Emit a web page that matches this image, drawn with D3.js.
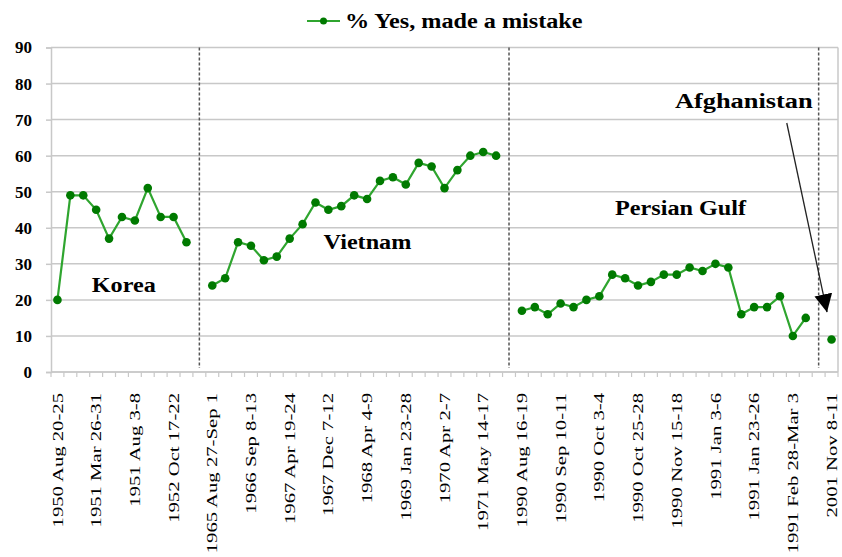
<!DOCTYPE html>
<html>
<head>
<meta charset="utf-8">
<script src="https://cdn.jsdelivr.net/npm/d3@7"></script>
<style>
  body { margin: 0; background: #fff; }
  svg { display: block; font-family: "Liberation Serif", "Times New Roman", serif; }
</style>
</head>
<body>
<svg id="chart" width="842" height="557"></svg>
<script>
// survey readings per war, gaps between wars are empty categories
var korea = [20, 49, 49, 45, 37, 43, 42, 51, 43, 43, 36];
var vietnam = [24, 26, 36, 35, 31, 32, 37, 41, 47, 45, 46, 49, 48, 53, 54, 52, 58, 57, 51, 56, 60, 61, 60];
var persianGulf = [17, 18, 16, 19, 18, 20, 21, 27, 26, 24, 25, 27, 27, 29, 28, 30, 29, 16, 18, 18, 21, 10, 15];
var afghanistan = [9];

// every third category is labelled
var tickLabels = [
  "1950 Aug 20-25", "1951 Mar 26-31", "1951 Aug 3-8", "1952 Oct 17-22",
  "1965 Aug 27-Sep 1", "1966 Sep 8-13", "1967 Apr 19-24", "1967 Dec 7-12",
  "1968 Apr 4-9", "1969 Jan 23-28", "1970 Apr 2-7", "1971 May 14-17",
  "1990 Aug 16-19", "1990 Sep 10-11", "1990 Oct 3-4", "1990 Oct 25-28",
  "1990 Nov 15-18", "1991 Jan 3-6", "1991 Jan 23-26", "1991 Feb 28-Mar 3",
  "2001 Nov 8-11"
];
var yTicks = [0, 10, 20, 30, 40, 50, 60, 70, 80, 90];
var seriesName = "% Yes, made a mistake";

var values = korea.concat([null], vietnam, [null], persianGulf, [null], afghanistan);
var separators = [11, 35, 59];
var labels = [
  {text: "Korea", cat: 5.14, value: 22.3},
  {text: "Vietnam", cat: 24.03, value: 34.1},
  {text: "Persian Gulf", cat: 48.3, value: 43.5},
  {text: "Afghanistan", cat: 53.2, value: 73.1, stretch: 1.2}
];

(function chart() {
  var svg = d3.select("#chart"),
      left = 51, right = 838, top = 47.5, bottom = 372;

  var lineColor = "#2fa52f", dotColor = "#007a00", gridColor = "#c8c8c8";

  var x = d3.scaleBand()
      .domain(d3.range(values.length))
      .range([left, right]);

  var y = d3.scaleLinear()
      .domain([0, 90])
      .range([bottom, top]);

  // category centre, also works for fractional positions
  var cx = function(i) { return left + (i + 0.5) * x.step(); };

  // gridlines
  svg.append("g")
      .selectAll("line")
      .data(yTicks)
      .enter().append("line")
      .attr("x1", left).attr("x2", right)
      .attr("y1", function(d) { return y(d); })
      .attr("y2", function(d) { return y(d); })
      .attr("stroke", gridColor)
      .attr("stroke-width", 1.5);

  svg.append("line")
      .attr("x1", right).attr("x2", right)
      .attr("y1", top).attr("y2", bottom)
      .attr("stroke", gridColor).attr("stroke-width", 1.5);

  // y axis
  var yAxis = svg.append("g")
      .attr("transform", "translate(" + left + ",0)")
      .call(d3.axisLeft(y).tickValues(yTicks).tickSize(5).tickPadding(14));
  yAxis.select(".domain").attr("stroke", gridColor).attr("stroke-width", 1.5);
  yAxis.selectAll(".tick line").attr("stroke", gridColor).attr("stroke-width", 1.5);
  yAxis.selectAll("text")
      .attr("fill", "#000")
      .style("font-size", "17px")
      .style("font-weight", "bold")
      .style("font-family", "Liberation Serif");

  // x axis: ticks at every category boundary
  var xAxis = svg.append("g")
      .attr("transform", "translate(0," + bottom + ")");
  xAxis.append("line")
      .attr("x1", left).attr("x2", right)
      .attr("stroke", gridColor).attr("stroke-width", 1.5);
  xAxis.selectAll(".tk")
      .data(d3.range(values.length + 1))
      .enter().append("line")
      .attr("class", "tk")
      .attr("x1", function(i) { return left + i * x.step(); })
      .attr("x2", function(i) { return left + i * x.step(); })
      .attr("y1", 0).attr("y2", 5)
      .attr("stroke", gridColor).attr("stroke-width", 1.2);

  var stretch = 1.38;
  xAxis.selectAll(".lbl")
      .data(tickLabels)
      .enter().append("text")
      .attr("class", "lbl")
      .attr("transform", function(d, i) {
        return "translate(" + cx(i * 3) + ",21) rotate(-90) scale(" + stretch + ",1)";
      })
      .attr("dy", "0.34em")
      .attr("text-anchor", "end")
      .style("font-size", "15px")
      .text(function(d) { return d; });

  // war separators
  svg.append("g")
      .selectAll("line")
      .data(separators)
      .enter().append("line")
      .attr("x1", cx).attr("x2", cx)
      .attr("y1", top).attr("y2", bottom - 4)
      .attr("stroke", "#555")
      .attr("stroke-width", 1.5)
      .attr("stroke-dasharray", "3,2");

  // series
  var line = d3.line()
      .defined(function(d) { return d != null; })
      .x(function(d, i) { return cx(i); })
      .y(function(d) { return y(d); });

  svg.append("path")
      .datum(values)
      .attr("fill", "none")
      .attr("stroke", lineColor)
      .attr("stroke-width", 2.2)
      .attr("d", line);

  svg.append("g")
      .selectAll("circle")
      .data(values.map(function(v, i) { return {v: v, i: i}; })
        .filter(function(d) { return d.v != null; }))
      .enter().append("circle")
      .attr("cx", function(d) { return cx(d.i); })
      .attr("cy", function(d) { return y(d.v); })
      .attr("r", 4.3)
      .attr("fill", dotColor);

  // annotations
  svg.append("g")
      .selectAll("text")
      .data(labels)
      .enter().append("text")
      .attr("transform", function(d) {
        return "translate(" + cx(d.cat) + "," + y(d.value) + ") scale(" + (d.stretch || 1.1) + ",1)";
      })
      .attr("text-anchor", "middle")
      .style("font-size", "22px")
      .style("font-weight", "bold")
      .text(function(d) { return d.text; });

  svg.append("defs").append("marker")
      .attr("id", "head")
      .attr("viewBox", "0 0 10 10")
      .attr("refX", 10).attr("refY", 5)
      .attr("markerWidth", 18).attr("markerHeight", 18)
      .attr("markerUnits", "userSpaceOnUse")
      .attr("orient", "auto")
      .append("path")
      .attr("d", "M0,0L10,5L0,10Z")
      .attr("fill", "#000");

  svg.append("line")
      .attr("x1", cx(56.53)).attr("y1", y(69.06))
      .attr("x2", cx(59.65)).attr("y2", y(16.6))
      .attr("stroke", "#222")
      .attr("stroke-width", 1.3)
      .attr("marker-end", "url(#head)");

  // legend
  var legend = svg.append("g").attr("transform", "translate(307,21)");
  legend.append("line")
      .attr("x1", 0).attr("x2", 33)
      .attr("stroke", lineColor).attr("stroke-width", 2.2);
  legend.append("circle")
      .attr("cx", 16.5).attr("r", 3.5)
      .attr("fill", dotColor);
  legend.append("text")
      .attr("transform", "translate(38,7) scale(1.1,1)")
      .style("font-size", "22px")
      .style("font-weight", "bold")
      .text(seriesName);
})();
</script>
</body>
</html>
